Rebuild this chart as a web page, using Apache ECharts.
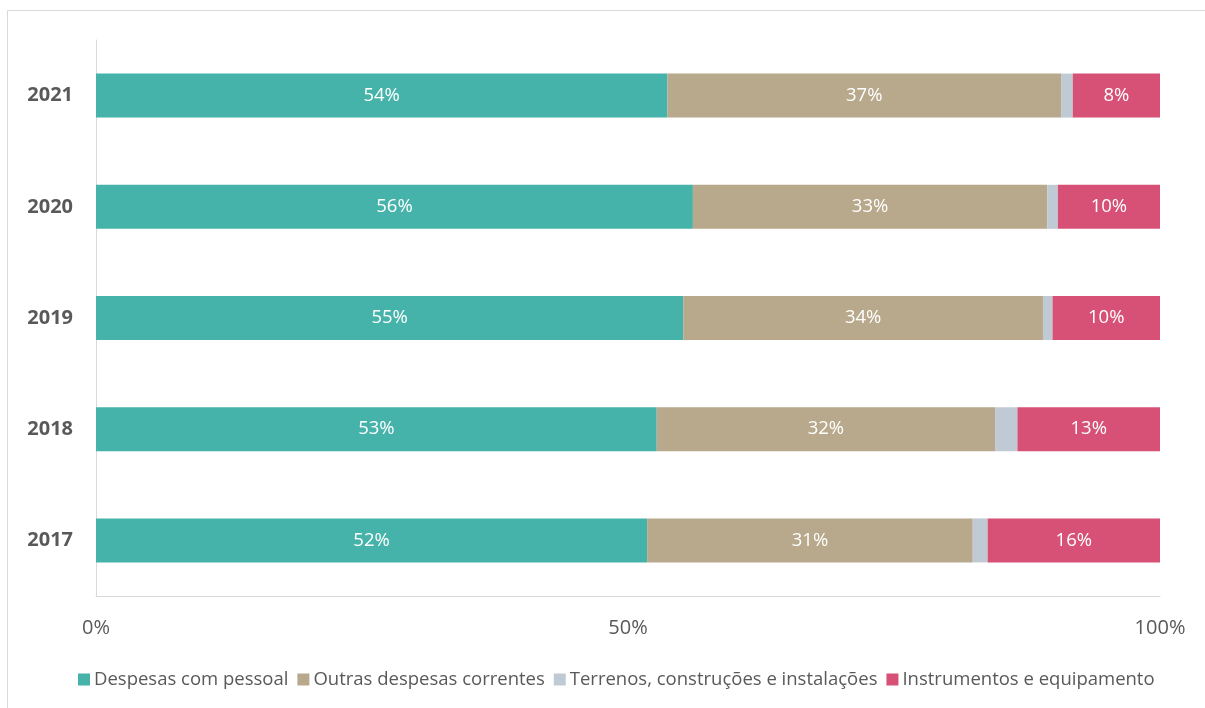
<!DOCTYPE html>
<html><head><meta charset="utf-8">
<script src="https://cdn.jsdelivr.net/npm/echarts@6/dist/echarts.min.js"></script>
<style>html,body{margin:0;padding:0;background:#fff}#c{width:1205px;height:708px}</style>
</head><body><div id="c"></div>
<script>
const years = ['2017','2018','2019','2020','2021'];
const seriesNames = ['Despesas com pessoal','Outras despesas correntes','Terrenos, construções e instalações','Instrumentos e equipamento'];
const pessoal = [51.8, 52.7, 55.2, 56.1, 53.7];
const outras = [30.6, 31.8, 33.8, 33.3, 37.0];
const terrenos = [1.4, 2.1, 0.9, 1.0, 1.1];
const instrumentos = [16.2, 13.4, 10.1, 9.6, 8.2];
const xTicks = [0, 50, 100];
const colors = ['#46B3AA','#B8A88C','#C0CAD5','#D65175'];

const font = '"Open Sans", sans-serif';
const allData = [pessoal, outras, terrenos, instrumentos];
const chart = echarts.init(document.getElementById('c'));
chart.setOption({
  animation:false,
  color: colors,
  textStyle:{fontFamily:font},
  grid:{left:96,right:45,top:40,bottom:112,containLabel:false},
  graphic:[
    {type:'line',shape:{x1:7.5,y1:10.5,x2:1205,y2:10.5},style:{stroke:'#d9d9d9',lineWidth:1}},
    {type:'line',shape:{x1:7.5,y1:10.5,x2:7.5,y2:708},style:{stroke:'#d9d9d9',lineWidth:1}}
  ],
  legend:{
    data: seriesNames,
    top: 665, left:73,
    itemWidth:12, itemHeight:12, itemGap:9,
    icon:'rect',
    textStyle:{fontSize:18.5,color:'#595959',fontFamily:font,padding:[0,0,0,-1]}
  },
  xAxis:{
    type:'value', min:0, max:100, interval:50,
    axisLine:{show:true,lineStyle:{color:'#d9d9d9',width:1}},
    axisTick:{show:false},
    splitLine:{show:false},
    axisLabel:{formatter:v=>xTicks.includes(v)?v+'%':'',fontSize:20,color:'#595959',margin:22,fontFamily:font}
  },
  yAxis:{
    type:'category', data: years,
    axisLine:{show:true,lineStyle:{color:'#d9d9d9',width:1}},
    axisTick:{show:false},
    axisLabel:{fontSize:20,fontWeight:'bold',color:'#595959',margin:23,fontFamily:font}
  },
  series: seriesNames.map((n,i)=>({
    name:n, type:'bar', stack:'t', barWidth:44,
    data: allData[i],
    label:{show:i!==2,position:'inside',color:'#fff',fontSize:18.5,fontFamily:font,
      formatter:p=>Math.round(p.value)+'%'},
    itemStyle:{color:colors[i]}
  }))
});
</script></body></html>
